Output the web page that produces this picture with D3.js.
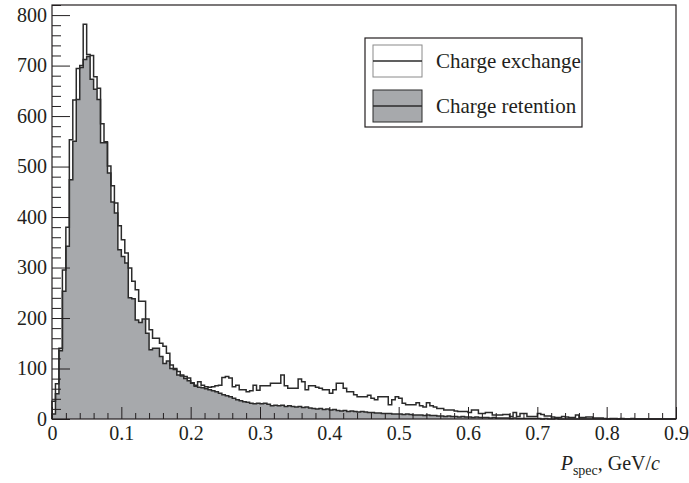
<!DOCTYPE html>
<html>
<head>
<meta charset="utf-8">
<script src="https://cdn.jsdelivr.net/npm/d3@7"></script>
<style>
body { margin: 0; background: #fff; }
text { font-family: "Liberation Serif", "Times New Roman", serif; fill: #231f20; }
</style>
</head>
<body>
<div id="chart-area"></div>
<script>
// histogram bins of 0.005 GeV/c from 0 to 0.9
var binWidth = 0.005;

var exchange = [
    35, 70, 140, 295, 380, 553, 632, 694, 700, 782,
    722, 720, 678, 655, 585, 549, 501, 462, 428, 383,
    355, 329, 299, 273, 256, 233, 233, 198, 177, 160,
    160, 150, 144, 130, 107, 100, 94, 87, 84, 81,
    71, 67, 74, 67, 64, 63, 64, 66, 67, 82,
    84, 81, 64, 67, 58, 58, 54, 56, 67, 57,
    66, 66, 66, 71, 71, 71, 87, 66, 61, 61,
    61, 79, 74, 58, 66, 66, 63, 61, 58, 58,
    51, 58, 71, 71, 61, 54, 54, 48, 44, 44,
    44, 47, 41, 38, 44, 44, 44, 28, 38, 44,
    41, 31, 28, 28, 28, 32, 26, 24, 32, 26,
    24, 21, 21, 18, 18, 18, 16, 15, 15, 15,
    13, 18, 18, 11, 11, 13, 13, 8, 8, 8,
    9, 9, 5, 13, 5, 11, 11, 5, 5, 5,
    11, 9, 6, 6, 4, 3, 3, 5, 4, 3,
    3, 8, 3, 3, 4, 4, 2, 2, 2, 1,
    0, 1, 1, 0, 1, 0, 0, 1, 0, 0,
    0, 0, 0, 0, 0, 0, 0, 0, 0, 0
];

var retention = [
    10, 50, 135, 253, 342, 474, 550, 633, 696, 712,
    718, 673, 653, 633, 547, 547, 487, 430, 408, 335,
    322, 309, 240, 238, 196, 191, 198, 170, 137, 140,
    140, 124, 110, 115, 100, 98, 87, 85, 80, 76,
    72, 65, 63, 62, 60, 58, 56, 54, 51, 48,
    46, 44, 41, 38, 36, 34, 33, 31, 30, 31,
    30, 31, 29, 26, 27, 26, 27, 25, 26, 25,
    24, 25, 23, 24, 22, 21, 20, 21, 19, 20,
    18, 19, 17, 16, 17, 15, 16, 15, 14, 15,
    14, 13, 13, 12, 12, 11, 11, 11, 10, 10,
    10, 9, 10, 9, 8, 8, 8, 7, 8, 7,
    7, 6, 6, 5, 6, 5, 5, 4, 5, 4,
    4, 3, 4, 3, 3, 3, 2, 3, 2, 2,
    2, 2, 1, 2, 1, 1, 1, 1, 1, 1,
    1, 0, 1, 0, 0, 1, 0, 0, 0, 0,
    0, 0, 0, 0, 0, 0, 0, 0, 0, 0,
    0, 0, 0, 0, 0, 0, 0, 0, 0, 0,
    0, 0, 0, 0, 0, 0, 0, 0, 0, 0
];

var xTicks = [0, 0.1, 0.2, 0.3, 0.4, 0.5, 0.6, 0.7, 0.8, 0.9];
var xMinor = [0.02, 0.04, 0.06, 0.08, 0.12, 0.14, 0.16, 0.18, 0.22, 0.24, 0.26, 0.28,
    0.32, 0.34, 0.36, 0.38, 0.42, 0.44, 0.46, 0.48, 0.52, 0.54, 0.56, 0.58,
    0.62, 0.64, 0.66, 0.68, 0.72, 0.74, 0.76, 0.78, 0.82, 0.84, 0.86, 0.88];
var yTicks = [0, 100, 200, 300, 400, 500, 600, 700, 800];
var yMinor = [20, 40, 60, 80, 120, 140, 160, 180, 220, 240, 260, 280, 320, 340, 360, 380,
    420, 440, 460, 480, 520, 540, 560, 580, 620, 640, 660, 680, 720, 740, 760, 780, 820];
var legendLabels = ["Charge exchange", "Charge retention"];

var margin = {top: 5, right: 13, bottom: 64, left: 52};
var width = 689 - margin.left - margin.right;
var height = 483 - margin.top - margin.bottom;

var lineColor = "#2b2b2b";
var fillColor = "#a7a9ac";
var serif = "'Liberation Serif', 'Times New Roman', serif";

var svg = d3.select("#chart-area").append("svg")
    .attr("width", 689)
    .attr("height", 483);

var g = svg.append("g")
    .attr("transform", "translate(" + margin.left + "," + margin.top + ")");

var x = d3.scaleLinear().domain([0, 0.9]).range([0, width]);
var y = d3.scaleLinear().domain([0, 820]).range([height, 0]);

function steps(values) {
    var pts = [{x: 0, v: 0}];
    values.forEach((v, i) => { pts.push({x: i * binWidth, v: v}); });
    pts.push({x: values.length * binWidth, v: values[values.length - 1]});
    pts.push({x: values.length * binWidth, v: 0});
    return pts;
}

var area = d3.area()
    .curve(d3.curveStepAfter)
    .x((d) => x(d.x))
    .y0(height)
    .y1((d) => y(d.v));

var line = d3.line()
    .curve(d3.curveStepAfter)
    .x((d) => x(d.x))
    .y((d) => y(d.v));

// charge retention: grey filled
g.append("path")
    .attr("d", area(steps(retention)))
    .attr("fill", fillColor)
    .attr("stroke", "none");

g.append("path")
    .attr("d", line(steps(retention)))
    .attr("fill", "none")
    .attr("stroke", lineColor)
    .attr("stroke-width", 1.5);

// charge exchange: outline only
g.append("path")
    .attr("d", line(steps(exchange)))
    .attr("fill", "none")
    .attr("stroke", lineColor)
    .attr("stroke-width", 1.5);

// axes, ticks drawn inwards
var yMajor = d3.axisLeft(y).tickValues(yTicks).tickSize(-18).tickPadding(5)
    .tickFormat((d) => d);
var yMin = d3.axisLeft(y).tickValues(yMinor).tickSize(-9).tickFormat("");
var xMajor = d3.axisBottom(x).tickValues(xTicks).tickSize(-12).tickPadding(7)
    .tickFormat((d) => d);
var xMin = d3.axisBottom(x).tickValues(xMinor).tickSize(-6).tickFormat("");

g.append("g").call(yMajor);
g.append("g").call(yMin);
g.append("g").attr("transform", "translate(0," + height + ")").call(xMajor);
g.append("g").attr("transform", "translate(0," + height + ")").call(xMin);

g.selectAll(".domain").remove();
g.selectAll(".tick line").attr("stroke", "#231f20");
g.selectAll(".tick text")
    .attr("font-size", "20px")
    .style("font-family", serif)
    .attr("fill", "#231f20");

// frame
g.append("rect")
    .attr("width", width)
    .attr("height", height)
    .attr("fill", "none")
    .attr("stroke", "#231f20")
    .attr("stroke-width", 1.2);

// axis title
var title = svg.append("text")
    .attr("x", 660)
    .attr("y", 470)
    .attr("text-anchor", "end")
    .attr("font-size", "20px")
    .style("font-family", serif);
title.append("tspan").attr("font-style", "italic").text("P");
title.append("tspan").attr("font-size", "14px").attr("dy", 5).text("spec");
title.append("tspan").attr("dy", -5).text(", GeV/");
title.append("tspan").attr("font-style", "italic").text("c");

// legend
var legend = svg.append("g");
legend.append("rect")
    .attr("x", 365).attr("y", 38)
    .attr("width", 217).attr("height", 89)
    .attr("fill", "#fff")
    .attr("stroke", "#231f20")
    .attr("stroke-width", 1.2);

var boxFill = ["#fff", fillColor];
var boxStroke = ["#8a8a8a", lineColor];
legendLabels.forEach((label, i) => {
    var top = 45 + i * 45;
    legend.append("rect")
        .attr("x", 373).attr("y", top)
        .attr("width", 49).attr("height", 32)
        .attr("fill", boxFill[i])
        .attr("stroke", boxStroke[i])
        .attr("stroke-width", 1);
    legend.append("line")
        .attr("x1", 373).attr("x2", 422)
        .attr("y1", top + 16).attr("y2", top + 16)
        .attr("stroke", lineColor)
        .attr("stroke-width", 1.4);
    legend.append("text")
        .attr("x", 436)
        .attr("y", top + 23)
        .attr("font-size", "21px")
        .style("font-family", serif)
        .text(label);
});
</script>
</body>
</html>
